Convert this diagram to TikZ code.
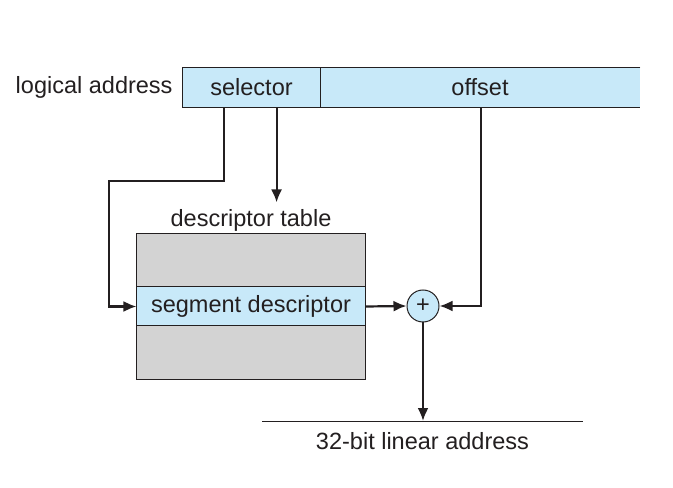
\documentclass[tikz,border=0pt]{standalone}
\usepackage{fontspec}
\setmainfont{Liberation Sans}
\usepackage{xcolor}
\usetikzlibrary{arrows.meta, positioning, calc}
\definecolor{regblue}{HTML}{C8E9F9}
\definecolor{tabgray}{HTML}{D3D3D3}
\definecolor{inkline}{HTML}{231F20}

\begin{document}
\begin{tikzpicture}[
    x=0.5bp, y=-0.5bp,
    every node/.style={font=\fontsize{11.8}{14}\selectfont, text=inkline},
    field/.style={fill=regblue, inner sep=0pt, minimum height=19.5bp},
    link/.style={draw=inkline, line width=1.1bp, -{Latex[length=6.5bp, width=5.5bp]}},
    edge/.style={draw=inkline, line width=0.5bp}
]
    \useasboundingbox (0,0) rectangle (673,488);

    % Logical address
    \node[field, minimum width=68.5bp] (sel) at (251.5,87.5) {selector};
    \node[field, minimum width=160bp] (off) at (480,87.5) {offset};
    \draw[edge] (off.north east) -- (sel.north west) -- (sel.south west) -- (off.south east);
    \draw[edge] (sel.north east) -- (sel.south east);
    \node[left=1.5bp of sel] (logaddr) {logical address};

    % Descriptor table
    \node[draw=inkline, line width=0.5bp, fill=tabgray, minimum width=114bp, minimum height=72.5bp] (tab) at (251,306.5) {};
    \node[field, draw=inkline, line width=0.5bp, minimum width=114bp] (seg) at (tab.center) {segment descriptor};
    \node[above=-2.5bp of tab] (tablbl) {descriptor table};

    % Adder
    \node[circle, draw=inkline, line width=0.5bp, fill=regblue, minimum size=16bp, inner sep=0pt] (sum) at (423,306) {+};

    % Linear address
    \coordinate (linl) at (262,421);
    \coordinate (linr) at (583,421);
    \draw[edge] (linl) -- (linr);
    \node[below=2bp of $(linl)!0.5!(linr)$] (linaddr) {32-bit linear address};

    % Connectors
    \coordinate (selA) at ($(sel.south west)+(41,0)$);
    \coordinate (selB) at ($(sel.south west)+(94,0)$);
    \coordinate (offA) at ($(off.south west)+(161,0)$);
    \draw[link] (selA) |- (109,181) |- (seg.west);
    \draw[link] (selB) -- (selB |- tablbl.north);
    \draw[link] (seg.east) -- (sum.west);
    \draw[link] (offA) |- (sum.east);
    \draw[link] (sum.south) -- (sum.south |- linl);
\end{tikzpicture}
\end{document}
